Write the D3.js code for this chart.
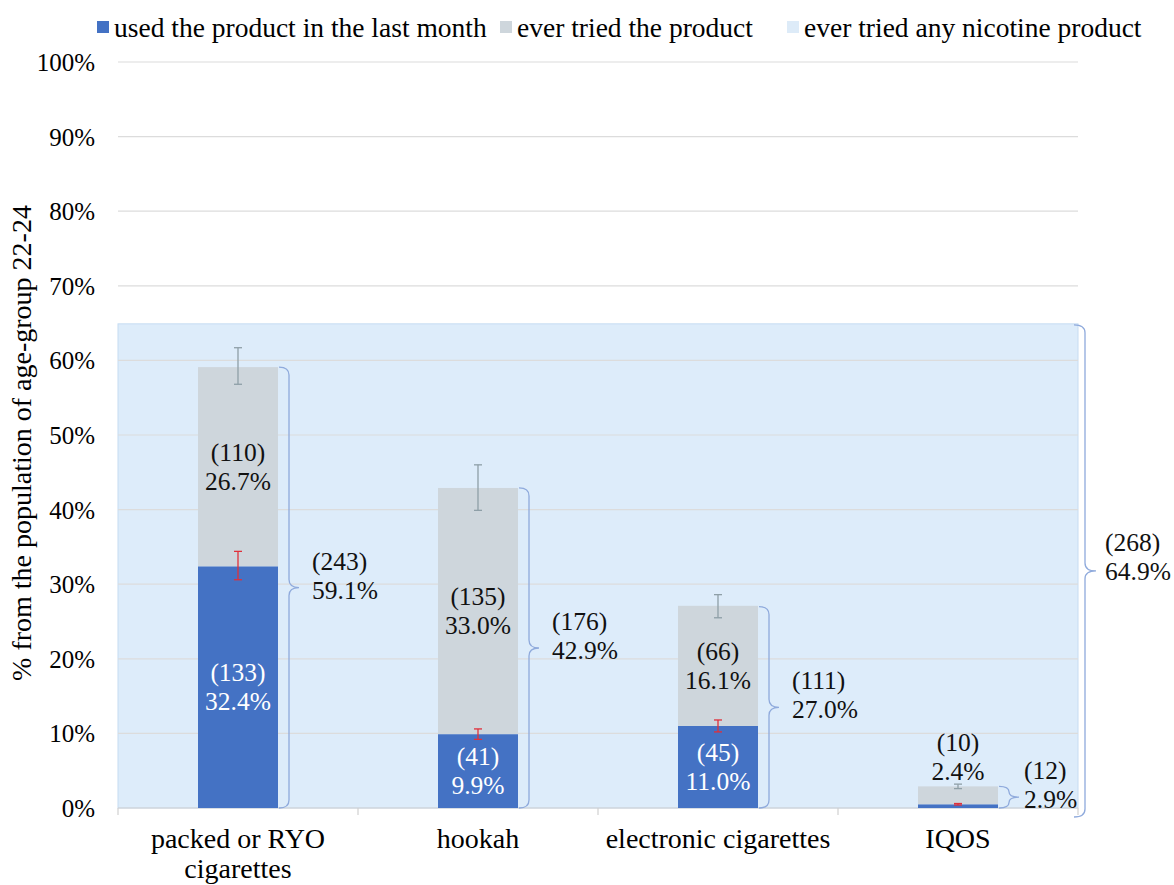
<!DOCTYPE html>
<html>
<head>
<meta charset="utf-8">
<script src="https://cdn.jsdelivr.net/npm/d3@7"></script>
<style>
  body { margin: 0; background: #fff; }
  svg text { font-family: "Liberation Serif", "Times New Roman", serif; }
</style>
</head>
<body>
<script>
// values (percent of age-group 22-24)
const categories = [['packed or RYO', 'cigarettes'], ['hookah'], ['electronic cigarettes'], ['IQOS']];
const lastMonth = [32.4, 9.9, 11.0, 0.5];
const lastMonthN = [133, 41, 45, null];
const everTried = [26.7, 33.0, 16.1, 2.4];
const everTriedN = [110, 135, 66, 10];
const totals = [59.1, 42.9, 27.0, 2.9];
const totalsN = [243, 176, 111, 12];
const lastMonthErr = [[30.6, 34.4], [9.2, 10.6], [10.2, 11.8], [0.4, 0.6]];
const totalErr = [[56.8, 61.7], [39.9, 46.0], [25.5, 28.6], [2.6, 3.2]];
const anyNicotine = 64.9;
const anyNicotineN = 268;
const yTicks = [0, 10, 20, 30, 40, 50, 60, 70, 80, 90, 100];
const legendItems = ['used the product in the last month', 'ever tried the product', 'ever tried any nicotine product'];

const width = 1174, height = 885;
const blue = '#4472c4', grey = '#ced6dc', bg = '#ddecfa', braceCol = '#8faadc';
const lblSize = 25.5;

const svg = d3.select('body').append('svg')
  .attr('width', width)
  .attr('height', height);

const x = d3.scaleBand().domain(d3.range(categories.length)).range([118, 1078]);
const y = d3.scaleLinear().domain([0, 100]).range([808, 62]);
const barW = x.bandwidth() / 3;
const bx = i => x(i) + (x.bandwidth() - barW) / 2;

// background for "any nicotine product"
svg.append('rect')
  .attr('x', x.range()[0]).attr('y', y(anyNicotine))
  .attr('width', x.range()[1] - x.range()[0]).attr('height', y(0) - y(anyNicotine))
  .attr('fill', bg).attr('stroke', '#c6dcf2');

// gridlines
svg.selectAll('.grid')
  .data(yTicks.filter(d => d > 0))
  .enter().append('line')
  .attr('x1', 118).attr('x2', 1078)
  .attr('y1', d => y(d)).attr('y2', d => y(d))
  .attr('stroke', '#dcdcdc').attr('stroke-width', 1.2);

// y tick labels
svg.selectAll('.ytick')
  .data(yTicks)
  .enter().append('text')
  .attr('x', 95).attr('y', d => y(d) + 9)
  .attr('text-anchor', 'end')
  .attr('font-size', 25)
  .text(d => d + '%');

// y title
svg.append('text')
  .attr('transform', 'translate(31,443) rotate(-90)')
  .attr('text-anchor', 'middle')
  .attr('font-size', 28)
  .text('% from the population of age-group 22-24');

// x axis
svg.append('line')
  .attr('x1', 118).attr('x2', 1078).attr('y1', y(0)).attr('y2', y(0))
  .attr('stroke', '#d0d0d0').attr('stroke-width', 1.2);
svg.selectAll('.xtick')
  .data(d3.range(categories.length + 1))
  .enter().append('line')
  .attr('x1', d => 118 + d * x.bandwidth()).attr('x2', d => 118 + d * x.bandwidth())
  .attr('y1', y(0)).attr('y2', y(0) + 7)
  .attr('stroke', '#d0d0d0').attr('stroke-width', 1.2);

categories.forEach((lines, i) => {
  const t = svg.append('text')
    .attr('x', x(i) + x.bandwidth() / 2).attr('y', 848)
    .attr('text-anchor', 'middle').attr('font-size', 28);
  lines.forEach((l, j) => t.append('tspan')
    .attr('x', x(i) + x.bandwidth() / 2).attr('dy', j ? 30 : 0).text(l));
});

// stacked bars
svg.selectAll('.lm')
  .data(lastMonth)
  .enter().append('rect')
  .attr('x', (d, i) => bx(i)).attr('width', barW)
  .attr('y', d => y(d)).attr('height', d => y(0) - y(d))
  .attr('fill', blue);

svg.selectAll('.ev')
  .data(everTried)
  .enter().append('rect')
  .attr('x', (d, i) => bx(i)).attr('width', barW)
  .attr('y', (d, i) => y(lastMonth[i] + d)).attr('height', d => y(0) - y(d))
  .attr('fill', grey);

// error bars
function errBar(lo, hi, cx, col) {
  const g = svg.append('g').attr('stroke', col).attr('stroke-width', 1.3);
  g.append('line').attr('x1', cx).attr('x2', cx).attr('y1', y(lo)).attr('y2', y(hi));
  g.append('line').attr('x1', cx - 4).attr('x2', cx + 4).attr('y1', y(lo)).attr('y2', y(lo));
  g.append('line').attr('x1', cx - 4).attr('x2', cx + 4).attr('y1', y(hi)).attr('y2', y(hi));
}
totalErr.forEach((e, i) => errBar(e[0], e[1], bx(i) + barW / 2, '#8e9fa7'));
lastMonthErr.forEach((e, i) => errBar(e[0], e[1], bx(i) + barW / 2, '#e0303a'));

// two-line labels
function label(x0, yc, n, pct, col, anchor) {
  const t = svg.append('text')
    .attr('x', x0).attr('y', yc - 6)
    .attr('text-anchor', anchor).attr('font-size', lblSize).attr('fill', col);
  if (n !== null) t.append('tspan').attr('x', x0).text('(' + n + ')');
  t.append('tspan').attr('x', x0).attr('dy', n !== null ? 29 : 0).text(pct.toFixed(1) + '%');
}

lastMonth.forEach((d, i) => {
  if (d < 3) return;
  label(bx(i) + barW / 2, y(d / 2), lastMonthN[i], d, '#fff', 'middle');
});
everTried.forEach((d, i) => {
  const cx = bx(i) + barW / 2;
  if (d < 5) label(cx, y(totals[i]) - 29, everTriedN[i], d, '#111', 'middle');
  else label(cx, y(lastMonth[i] + d / 2), everTriedN[i], d, '#111', 'middle');
});

// curly braces
function brace(x0, y0, y1, w) {
  const m = (y0 + y1) / 2, r = Math.min(8, (y1 - y0) / 4);
  const p = d3.path();
  p.moveTo(x0, y0);
  p.quadraticCurveTo(x0 + w, y0, x0 + w, y0 + r);
  p.lineTo(x0 + w, m - r);
  p.quadraticCurveTo(x0 + w, m, x0 + 2 * w, m);
  p.quadraticCurveTo(x0 + w, m, x0 + w, m + r);
  p.lineTo(x0 + w, y1 - r);
  p.quadraticCurveTo(x0 + w, y1, x0, y1);
  svg.append('path').attr('d', p.toString())
    .attr('fill', 'none').attr('stroke', braceCol).attr('stroke-width', 1.3);
  return m;
}

totals.forEach((d, i) => {
  const x0 = bx(i) + barW + 1;
  const m = brace(x0, y(d), y(0), 10);
  label(x0 + (d < 5 ? 25 : 33), m - 12, totalsN[i], d, '#111', 'start');
});

const bigM = brace(1074, y(anyNicotine) + 1, y(0) + 9, 11);
label(1105, bigM - 14, anyNicotineN, anyNicotine, '#111', 'start');

// legend
const legendX = [97, 500, 787];
const legendCol = [blue, grey, '#ddebf8'];
legendItems.forEach((l, i) => {
  svg.append('rect').attr('x', legendX[i]).attr('y', 21).attr('width', 12).attr('height', 12)
    .attr('fill', legendCol[i]);
  svg.append('text').attr('x', legendX[i] + 17).attr('y', 37)
    .attr('font-size', 27.5).text(l);
});
</script>
</body>
</html>
